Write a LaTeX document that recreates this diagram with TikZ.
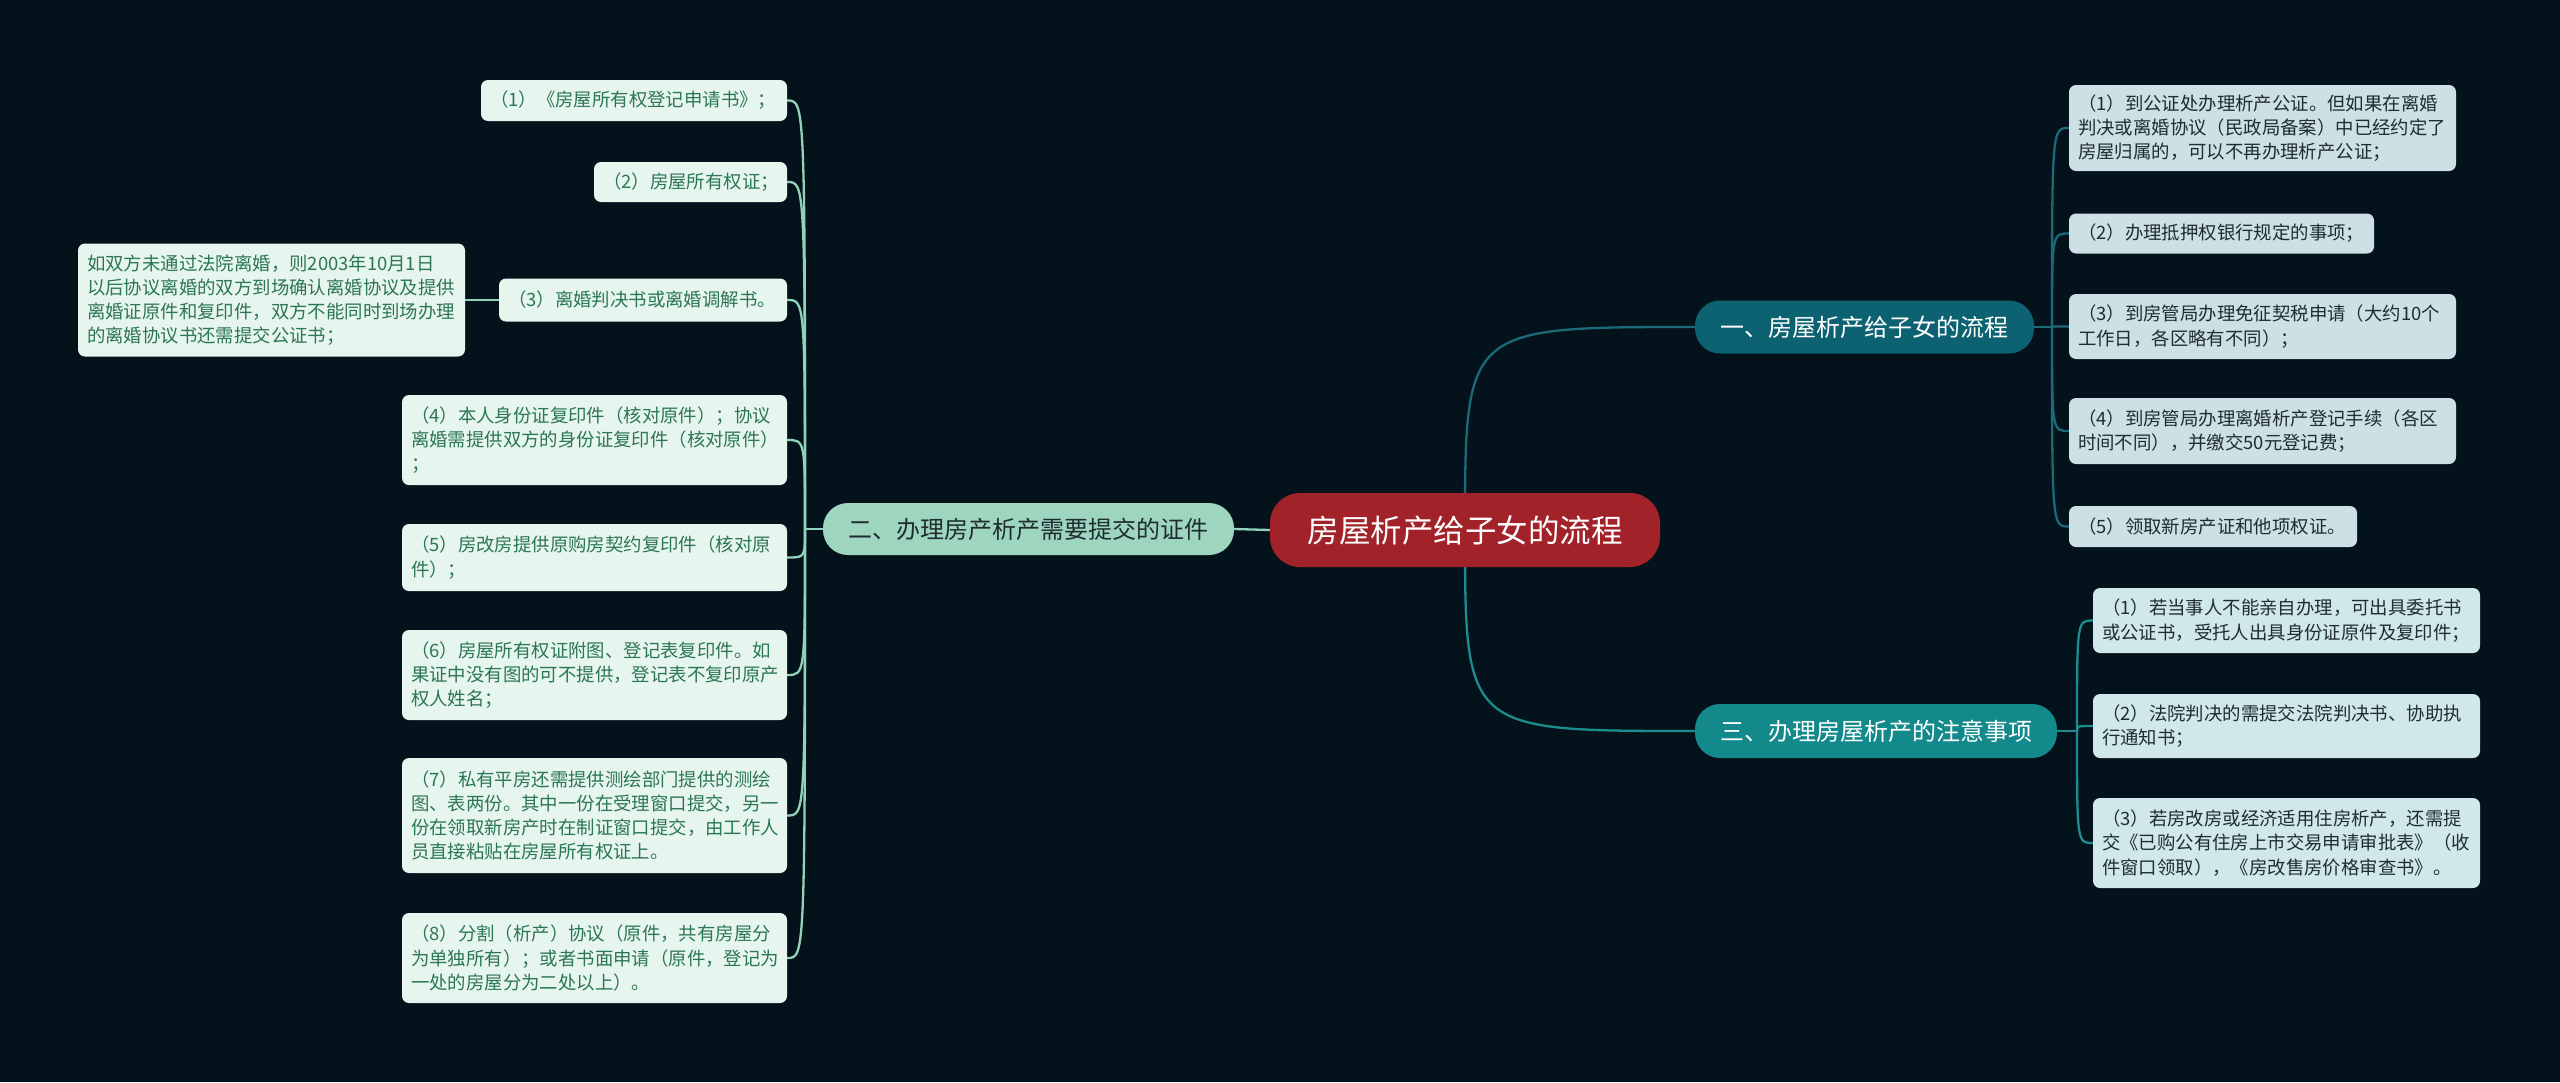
\documentclass[tikz,border=0pt]{standalone}
\usepackage{fontspec}
\setmainfont{Noto Sans CJK SC}
\definecolor{bgc}{HTML}{04121B}
\definecolor{rootred}{HTML}{A12229}
\definecolor{mintfill}{HTML}{9DD5BF}
\definecolor{mintline}{HTML}{92D2BA}
\definecolor{bonefill}{HTML}{0D6272}
\definecolor{bthreefill}{HTML}{13898B}
\definecolor{leafLfill}{HTML}{E7F5EF}
\definecolor{leafLtext}{HTML}{2B7656}
\definecolor{leafRfill}{HTML}{CDE0E4}
\definecolor{leafSfill}{HTML}{D1E8EA}
\definecolor{leafRtext}{HTML}{1F2D33}
\definecolor{lineone}{HTML}{1A6A77}
\definecolor{linethree}{HTML}{1C8D8E}
\pgfdeclarelayer{bg}
\pgfsetlayers{bg,main}
\begin{document}
\begin{tikzpicture}[x=1pt,y=-1pt,
  rootnode/.style={fill=rootred,text=white,rounded corners=30pt,minimum width=390pt,minimum height=74pt,inner sep=0pt,font=\fontsize{31.5}{36}\selectfont},
  branchnode/.style={rounded corners=25pt,inner sep=0pt,font=\fontsize{24}{28}\selectfont},
  leafbase/.style={rounded corners=7pt,inner xsep=9pt,inner ysep=0pt,align=left,font=\fontsize{18.4}{24.2}\selectfont},
  leafL/.style={leafbase,fill=leafLfill,text=leafLtext},
  leafR/.style={leafbase,fill=leafRfill,text=leafRtext},
  leafS/.style={leafbase,fill=leafSfill,text=leafRtext},
  conL/.style={draw=mintline,line width=2.3pt},
  conR/.style={draw=lineone,line width=2.3pt},
  conS/.style={draw=linethree,line width=2.3pt}]
\begin{pgfonlayer}{bg}
\fill[bgc] (0,0) rectangle (2560,1082);
\end{pgfonlayer}
\useasboundingbox (0,0) rectangle (2560,1082);

% root and branches
\node[rootnode] (root) at (1465,530) {房屋析产给子女的流程};
\node[branchnode,fill=mintfill,text=leafRtext,minimum width=411pt,minimum height=52pt] (b2) at (1028.5,529) {二、办理房产析产需要提交的证件};
\node[branchnode,fill=bonefill,text=white,minimum width=339pt,minimum height=53pt] (b1) at (1864.5,327) {一、房屋析产给子女的流程};
\node[branchnode,fill=bthreefill,text=white,minimum width=362pt,minimum height=54pt] (b3) at (1876,731) {三、办理房屋析产的注意事项};

% left leaves
\node[leafL,text width=288pt,minimum height=41pt] (l1) at (634,100.5) {（1）《房屋所有权登记申请书》；};
\node[leafL,text width=175pt,minimum height=40pt] (l2) at (690.5,182) {（2）房屋所有权证；};
\node[leafL,text width=270pt,minimum height=43pt] (l3) at (643,300) {（3）离婚判决书或离婚调解书。};
\node[leafL,text width=369pt,minimum height=113pt] (l3c) at (271.5,300) {如双方未通过法院离婚，则2003年10月1日\\以后协议离婚的双方到场确认离婚协议及提供\\离婚证原件和复印件，双方不能同时到场办理\\的离婚协议书还需提交公证书；};
\node[leafL,text width=367pt,minimum height=90pt] (l4) at (594.5,440) {（4）本人身份证复印件（核对原件）；协议\\离婚需提供双方的身份证复印件（核对原件）\\；};
\node[leafL,text width=367pt,minimum height=67pt] (l5) at (594.5,557.5) {（5）房改房提供原购房契约复印件（核对原\\件）；};
\node[leafL,text width=367pt,minimum height=90pt] (l6) at (594.5,675) {（6）房屋所有权证附图、登记表复印件。如\\果证中没有图的可不提供，登记表不复印原产\\权人姓名；};
\node[leafL,text width=367pt,minimum height=115pt] (l7) at (594.5,815.5) {（7）私有平房还需提供测绘部门提供的测绘\\图、表两份。其中一份在受理窗口提交，另一\\份在领取新房产时在制证窗口提交，由工作人\\员直接粘贴在房屋所有权证上。};
\node[leafL,text width=367pt,minimum height=90pt] (l8) at (594.5,958) {（8）分割（析产）协议（原件，共有房屋分\\为单独所有）；或者书面申请（原件，登记为\\一处的房屋分为二处以上）。};

% right leaves group 1
\node[leafR,text width=369pt,minimum height=86pt] (r1) at (2262.5,128) {（1）到公证处办理析产公证。但如果在离婚\\判决或离婚协议（民政局备案）中已经约定了\\房屋归属的，可以不再办理析产公证；};
\node[leafR,text width=287pt,minimum height=40pt] (r2) at (2221.5,233.5) {（2）办理抵押权银行规定的事项；};
\node[leafR,text width=369pt,minimum height=65pt] (r3) at (2262.5,326.5) {（3）到房管局办理免征契税申请（大约10个\\工作日，各区略有不同）；};
\node[leafR,text width=369pt,minimum height=66pt] (r4) at (2262.5,431) {（4）到房管局办理离婚析产登记手续（各区\\时间不同），并缴交50元登记费；};
\node[leafR,text width=270pt,minimum height=41pt] (r5) at (2213,526.5) {（5）领取新房产证和他项权证。};

% right leaves group 3
\node[leafS,text width=369pt,minimum height=65pt] (s1) at (2286.5,620.5) {（1）若当事人不能亲自办理，可出具委托书\\或公证书，受托人出具身份证原件及复印件；};
\node[leafS,text width=369pt,minimum height=64pt] (s2) at (2286.5,726) {（2）法院判决的需提交法院判决书、协助执\\行通知书；};
\node[leafS,text width=369pt,minimum height=90pt] (s3) at (2286.5,843) {（3）若房改房或经济适用住房析产，还需提\\交《已购公有住房上市交易申请审批表》（收\\件窗口领取），《房改售房价格审查书》。};

% connectors
\coordinate (tL) at (805,529);
\coordinate (tR) at (2052,327);
\coordinate (tS) at (2077,731);
\begin{pgfonlayer}{bg}
\draw[conL] (root.west) -- (b2.east);
\draw[conR] (root.center) .. controls (root.center |- b1.west) .. (b1.west);
\draw[conS] (root.center) .. controls (root.center |- b3.west) .. (b3.west);
\draw[conL] (b2.west) -- (tL);
\foreach \n in {l1,l2,l3,l4,l5,l6,l7,l8}{
  \draw[conL] (tL) .. controls (tL |- \n.east) .. (\n.east);
}
\draw[conL] (l3.west) -- (l3c.east);
\draw[conR] (b1.east) -- (tR);
\foreach \n in {r1,r2,r3,r4,r5}{
  \draw[conR] (tR) .. controls (tR |- \n.west) .. (\n.west);
}
\draw[conS] (b3.east) -- (tS);
\foreach \n in {s1,s2,s3}{
  \draw[conS] (tS) .. controls (tS |- \n.west) .. (\n.west);
}
\end{pgfonlayer}
\end{tikzpicture}
\end{document}
